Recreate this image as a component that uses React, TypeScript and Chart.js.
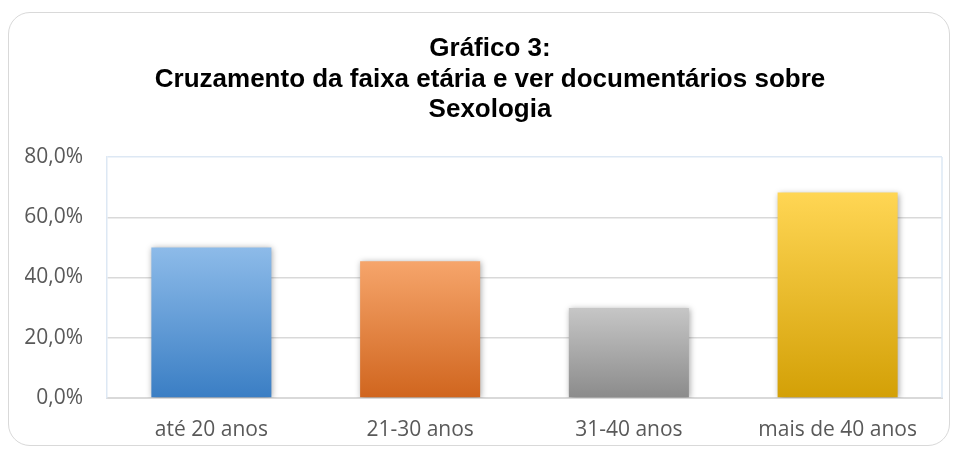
import React, { useEffect, useRef } from "react";
import { Chart, registerables } from "chart.js";

Chart.register(...registerables);

const titleLines = ["Gráfico 3:", "Cruzamento da faixa etária e ver documentários sobre", "Sexologia"];
const categories = ["até 20 anos", "21-30 anos", "31-40 anos", "mais de 40 anos"];
const values = [50.0, 45.4, 29.9, 68.2];
const topColors = ["#8dbbe9", "#f6a56b", "#c6c6c6", "#ffd654"];
const bottomColors = ["#3a7ec4", "#d0651e", "#8b8b8b", "#d3a006"];
const yMin = 0;
const yMax = 80;
const yStep = 20;

const titlePlugin = {
  id: "customTitle",
  afterDraw(chart: any) {
    const ctx = chart.ctx;
    ctx.save();
    ctx.font = "bold 26px 'Liberation Sans', Arial, sans-serif";
    ctx.fillStyle = "#000000";
    ctx.textAlign = "center";
    ctx.textBaseline = "alphabetic";
    titleLines.forEach((t, i) => ctx.fillText(t, 490, 56 + i * 30.5));
    ctx.restore();
  },
};

const framePlugin = {
  id: "frame",
  beforeDatasetsDraw(chart: any) {
    const { ctx, chartArea } = chart;
    ctx.save();
    ctx.strokeStyle = "#dde8f4";
    ctx.lineWidth = 1.5;
    ctx.beginPath();
    ctx.moveTo(chartArea.right, chartArea.top);
    ctx.lineTo(chartArea.right, chartArea.bottom);
    ctx.stroke();
    ctx.restore();
  },
  beforeDatasetDraw(chart: any) {
    const ctx = chart.ctx;
    ctx.save();
    ctx.shadowColor = "rgba(0,0,0,0.35)";
    ctx.shadowBlur = 6;
    ctx.shadowOffsetX = 1;
    ctx.shadowOffsetY = 1;
  },
  afterDatasetDraw(chart: any) {
    chart.ctx.restore();
  },
};

export default function App() {
  const ref = useRef<HTMLCanvasElement>(null);
  useEffect(() => {
    if (!ref.current) return;
    const chart = new Chart(ref.current, {
      type: "bar",
      data: {
        labels: categories,
        datasets: [
          {
            data: values,
            backgroundColor: (c: any) => {
              const ch = c.chart;
              const i = c.dataIndex ?? 0;
              if (!ch.chartArea || !ch.scales.y || c.parsed == null) return topColors[i];
              const top = ch.scales.y.getPixelForValue(c.parsed.y);
              const bot = ch.scales.y.getPixelForValue(0);
              const g = ch.ctx.createLinearGradient(0, top, 0, bot);
              g.addColorStop(0, topColors[i]);
              g.addColorStop(1, bottomColors[i]);
              return g;
            },
            borderWidth: 0,
            barPercentage: 0.575,
            categoryPercentage: 1,
          },
        ],
      },
      options: {
        animation: false,
        responsive: false,
        layout: { padding: { left: 25, right: 18, top: 157, bottom: 11 } },
        plugins: { legend: { display: false }, title: { display: false }, tooltip: { enabled: false } },
        scales: {
          x: {
            afterFit: (s: any) => {
              s.height = 46;
            },
            grid: { display: false },
            border: { display: true, color: "#d9d9d9", width: 2 },
            ticks: {
              color: "#595959",
              font: { family: "'Open Sans', sans-serif", size: 21 },
              padding: 11,
              maxRotation: 0,
            },
          },
          y: {
            min: yMin,
            max: yMax,
            afterFit: (s: any) => {
              s.width = 82;
            },
            grid: {
              color: (c: any) => (c.tick && c.tick.value === yMax ? "#dde8f4" : "#d9d9d9"),
              lineWidth: 1.5,
              drawTicks: false,
            },
            border: { display: true, color: "#dde8f4", width: 1.5 },
            ticks: {
              stepSize: yStep,
              color: "#595959",
              padding: 24,
              font: { family: "'Open Sans', sans-serif", size: 21 },
              callback: (v: any) => Number(v).toFixed(1).replace(".", ",") + "%",
            },
          },
        },
      },
      plugins: [titlePlugin, framePlugin],
    });
    return () => chart.destroy();
  }, []);
  return (
    <div style={{ position: "absolute", left: 0, top: 0, width: 960, height: 455, background: "#fff" }}>
      <div
        style={{
          position: "absolute",
          left: 8,
          top: 12,
          width: 942,
          height: 434,
          border: "1px solid #d9d9d9",
          borderRadius: 22,
          boxSizing: "border-box",
        }}
      />
      <canvas ref={ref} width={960} height={455} style={{ position: "absolute", left: 0, top: 0, width: 960, height: 455 }} />
    </div>
  );
}
